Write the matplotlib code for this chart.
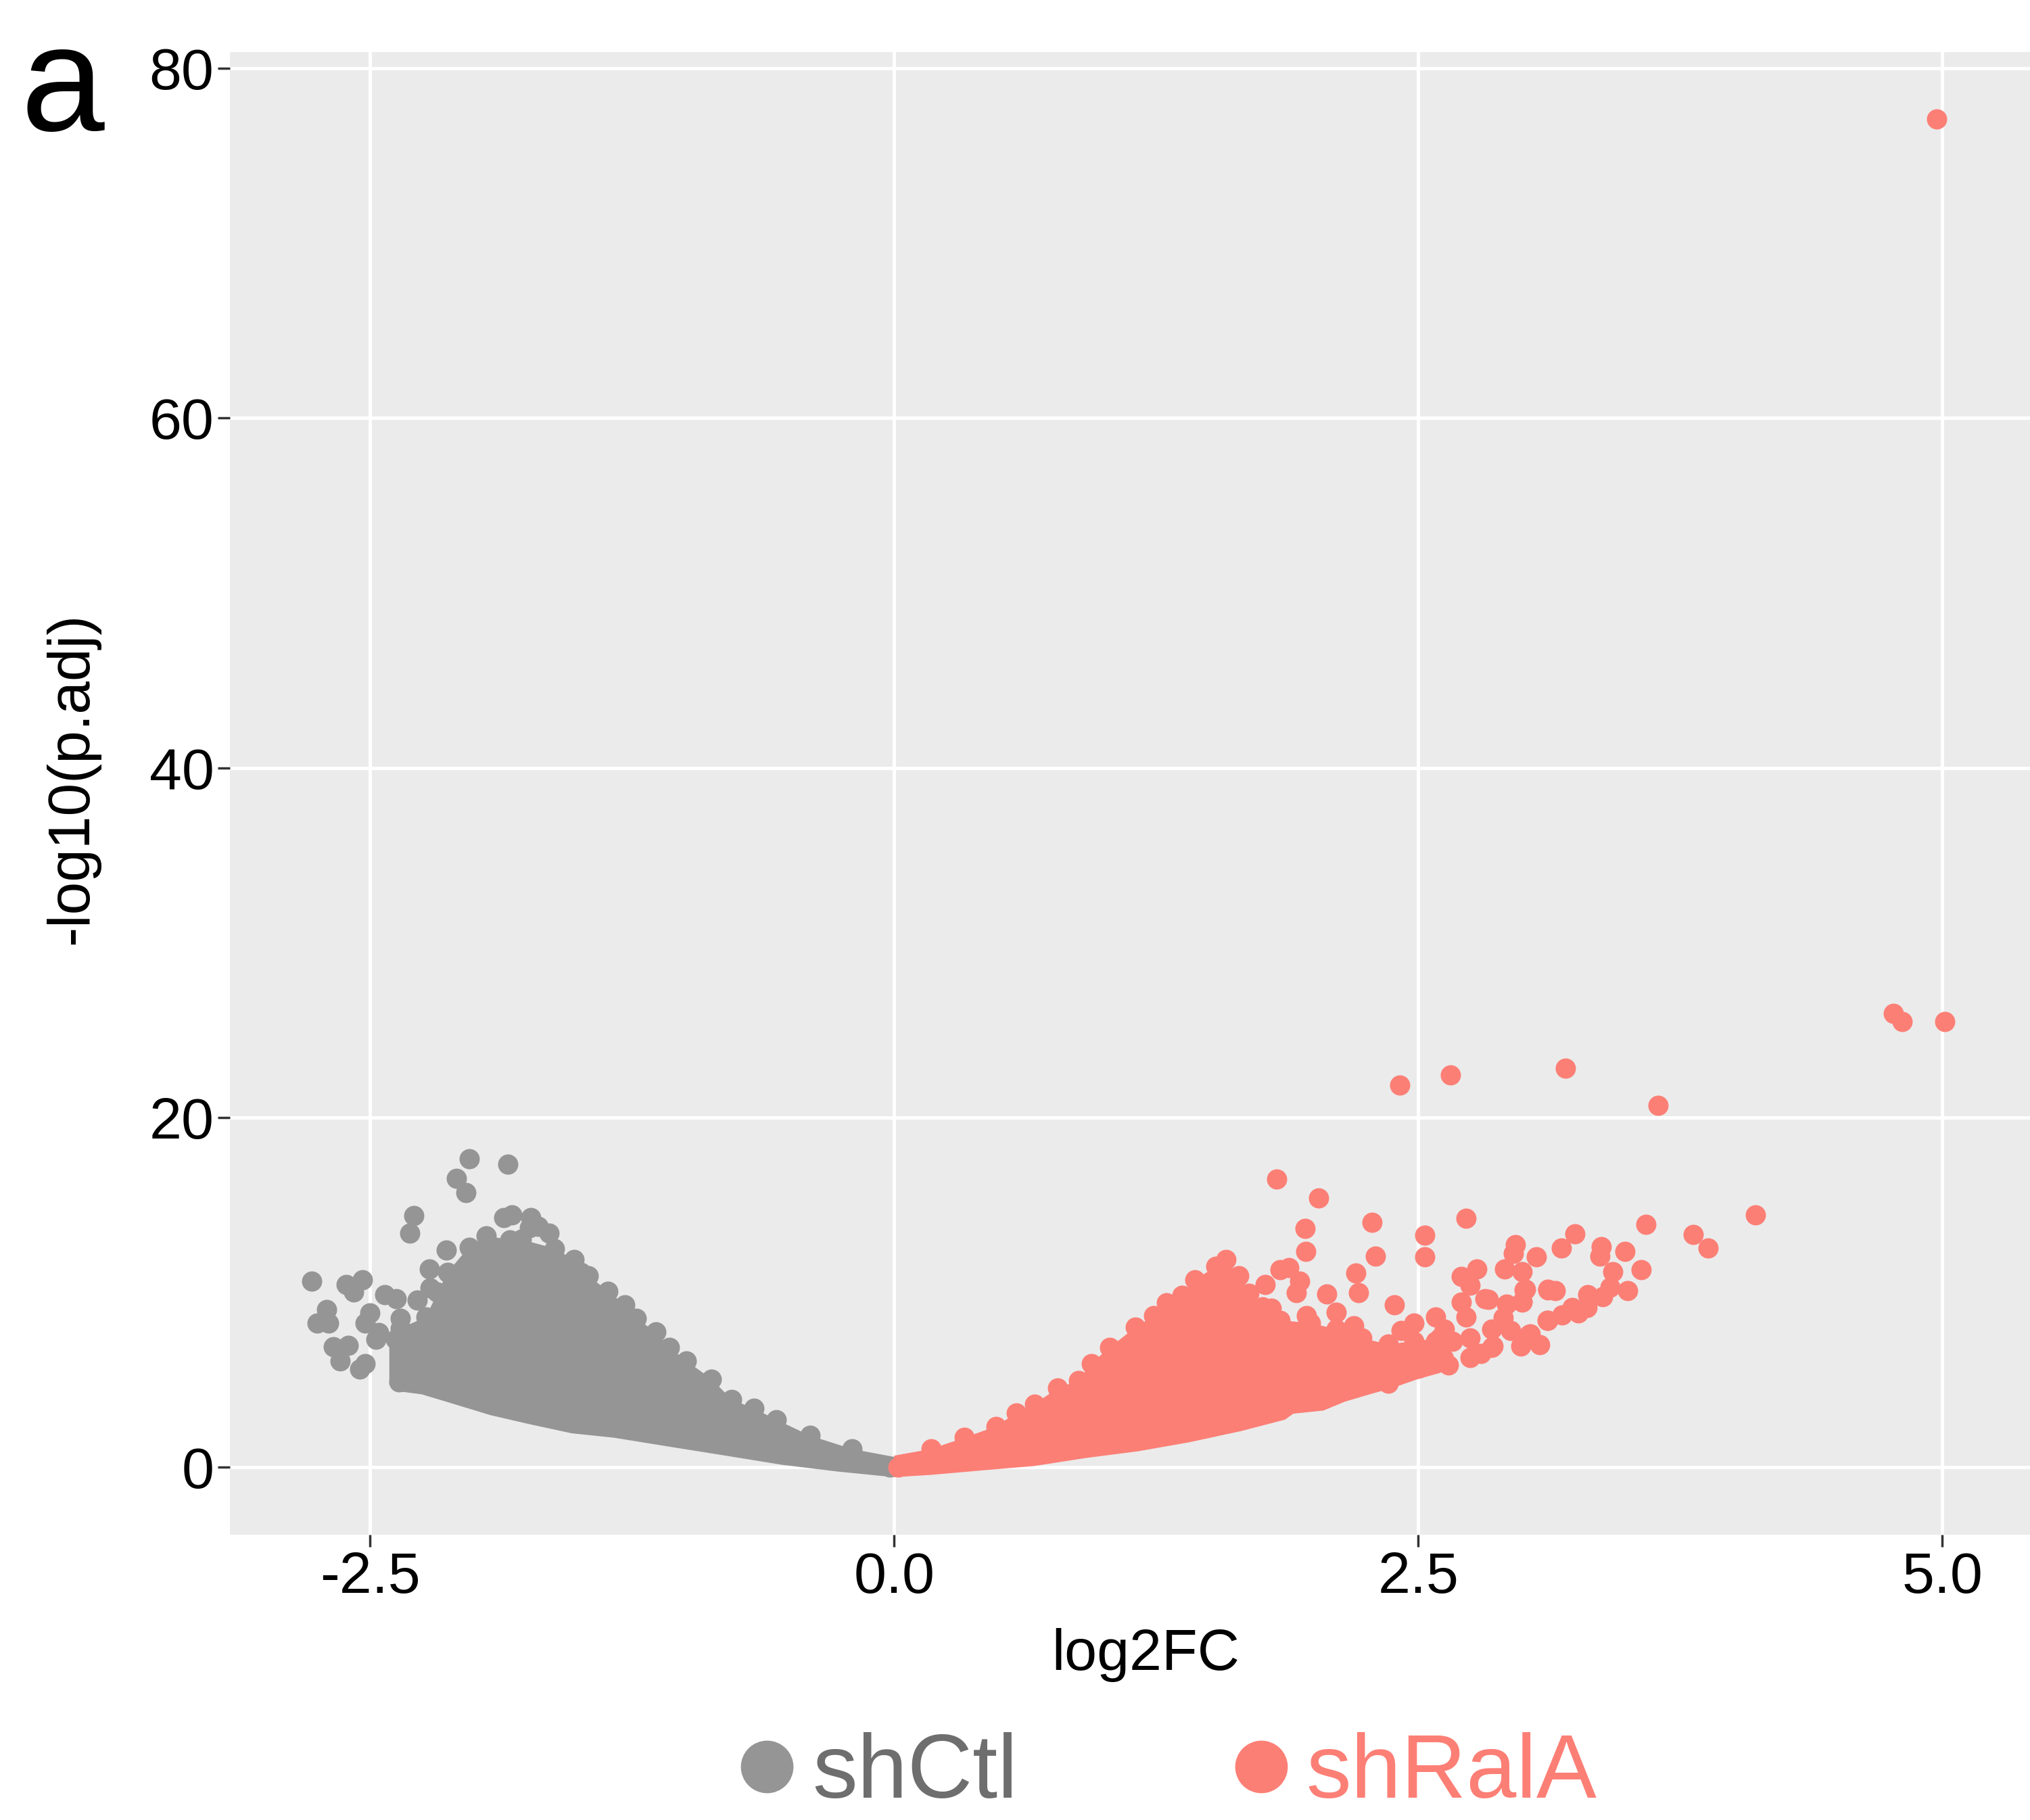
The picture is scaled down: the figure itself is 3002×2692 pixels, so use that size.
import matplotlib
matplotlib.use('Agg')
import matplotlib.pyplot as plt
from matplotlib.lines import Line2D

plt.rcParams['font.family'] = ['Liberation Sans', 'DejaVu Sans']

# scattered shCtl genes (log2FC, -log10(p.adj))
gray_x = [-2.028, -1.843, -2.089, -2.042, -2.291, -2.310, -1.863, -1.822, -1.734, -1.740,
          -1.647, -1.699, -2.135, -2.217, -2.213, -2.779, -2.614, -2.536, -2.579, -2.429,
          -2.374, -2.707, -2.752, -2.696, -2.501, -2.522, -2.676, -2.604, -2.641, -2.522,
          -2.548, -2.470, -2.460, -2.361, -2.357, -2.275, -2.182, -1.524, -1.493, -2.377, -0.02]
gray_y = [17.63, 17.34, 16.50, 15.70, 14.37, 13.38, 14.26, 14.42, 14.26, 13.70,
          13.38, 13.78, 12.41, 11.33, 10.25, 10.65, 10.44, 10.70, 10.02, 9.85,
          9.61, 9.00, 8.25, 8.25, 8.81, 8.25, 6.88, 6.96, 6.08, 5.92,
          5.61, 7.29, 7.69, 4.88, 8.49, 9.53, 10.02, 11.45, 11.14, 7.29, 0.0]

# dense shCtl cloud: upper edge (left to right) and lower edge (right to left)
gray_top_x = [-2.408, -2.408, -2.357, -2.234, -2.131, -2.028, -1.946, -1.833, -1.779, -1.619,
              -1.525, -1.458, -1.365, -1.284, -1.231, -1.137, -1.070, -0.990, -0.870, -0.776,
              -0.669, -0.562, -0.402, -0.201, 0.0]
gray_top_y = [4.72, 7.61, 7.93, 8.57, 11.13, 12.58, 13.22, 13.00, 13.02, 12.50,
              11.86, 10.96, 10.05, 9.28, 8.51, 7.73, 6.83, 6.06, 5.03, 3.87,
              3.35, 2.71, 1.80, 1.03, 0.58]
gray_bot_x = [0.0, -0.268, -0.536, -0.803, -1.070, -1.338, -1.538, -1.739, -1.926, -2.151,
              -2.254, -2.357]
gray_bot_y = [-0.58, -0.26, 0.13, 0.65, 1.16, 1.68, 1.93, 2.45, 2.97, 3.79,
              4.16, 4.32]

# scattered shRalA genes
red_x = [4.975, 4.766, 4.809, 5.012, 2.414, 2.654, 3.202, 3.645, 1.826, 2.024,
         2.281, 1.960, 1.963, 2.295, 2.532, 2.532, 2.727, 2.203, 2.217, 1.770,
         1.843, 1.884, 1.935, 1.919, 2.063, 1.801, 1.966, 2.110, 2.192, 2.388,
         2.418, 2.707, 2.779, 2.748, 2.707, 2.820, 2.964, 2.953, 3.063, 2.912,
         2.995, 3.005, 2.995, 3.118, 3.118, 2.943, 3.036, 2.851, 2.748, 2.645,
         2.583, 2.357, 4.108, 3.586, 3.812, 3.882, 3.247, 3.183, 3.375, 3.367,
         3.487, 3.565, 3.428, 3.013, 3.120, 3.153, 3.310, 3.379, 3.499, 3.416,
         2.835, 2.923, 2.997, 2.906, 3.030, 2.857, 3.115, 3.186, 3.264, 3.236,
         2.480, 2.583, 2.665, 2.583, 2.501, 2.748, 2.799, 2.851, 2.727, 2.625,
         3.307, 2.990, 3.080, 0.02]
red_y = [77.10, 25.93, 25.48, 25.48, 21.85, 22.44, 22.81, 20.67, 16.48, 15.40,
         13.98, 13.63, 12.32, 12.08, 13.27, 12.03, 14.24, 11.08, 9.96, 10.42,
         11.30, 11.42, 10.65, 9.96, 9.91, 9.10, 8.66, 8.84, 8.06, 9.27,
         7.80, 10.91, 11.34, 10.39, 9.44, 9.61, 12.72, 12.20, 12.03, 11.34,
         11.17, 10.13, 9.44, 10.13, 8.40, 7.80, 7.63, 6.85, 6.25, 5.82,
         8.58, 4.78, 14.41, 13.89, 13.29, 12.51, 13.34, 12.51, 12.60, 12.08,
         12.34, 11.30, 11.17, 10.18, 10.18, 10.10, 9.84, 9.75, 10.10, 10.27,
         9.58, 9.32, 9.49, 8.54, 7.59, 6.90, 8.37, 8.68, 8.80, 9.14,
         8.23, 7.18, 7.18, 5.99, 5.64, 7.37, 6.50, 7.88, 8.58, 7.88,
         9.11, 6.90, 7.00, 0.0]

# dense shRalA cloud: upper edge (left to right) and lower edge (right to left)
red_top_x = [0.0, 0.176, 0.336, 0.485, 0.583, 0.670, 0.781, 0.880, 0.941, 1.028,
             1.151, 1.238, 1.299, 1.374, 1.435, 1.534, 1.583, 1.645, 1.694, 1.757,
             1.843, 1.986, 2.110, 2.233, 2.357, 2.480, 2.604, 2.665, 2.686]
red_top_y = [0.65, 1.03, 1.68, 2.32, 3.09, 3.61, 4.51, 4.96, 5.93, 6.83,
             7.99, 8.64, 9.41, 9.80, 10.70, 11.47, 11.86, 10.96, 9.93, 9.15,
             8.40, 8.23, 7.89, 7.37, 7.02, 7.20, 7.37, 6.50, 5.82]
red_bot_x = [2.604, 2.501, 2.377, 2.275, 2.151, 2.048, 1.904, 1.865, 1.657, 1.410,
             1.164, 0.917, 0.670, 0.423, 0.176, 0.0]
red_bot_y = [5.38, 5.04, 4.52, 4.18, 3.74, 3.23, 3.05, 2.71, 2.06, 1.42,
             0.90, 0.52, 0.06, -0.19, -0.45, -0.58]

x_ticks = [-2.5, 0.0, 2.5, 5.0]
x_tick_labels = ['-2.5', '0.0', '2.5', '5.0']
y_ticks = [0, 20, 40, 60, 80]
y_tick_labels = ['0', '20', '40', '60', '80']
groups = ['shCtl', 'shRalA']

gray = '#959595'
salmon = '#FC7F76'
pt_size = 466

fig = plt.figure(figsize=(30.02, 26.92), dpi=100)
ax = fig.add_axes([0.1133, 0.1568, 0.8867, 0.8146])
ax.set_facecolor('#EBEBEB')

# dense clouds: filled outline, genes along the upper edge, then the scattered ones
ax.fill(gray_top_x + gray_bot_x, gray_top_y + gray_bot_y, color=gray, lw=0, zorder=2)
ax.scatter(gray_top_x[2:-1], gray_top_y[2:-1], s=pt_size, color=gray, linewidths=0, zorder=3)
ax.scatter(gray_x, gray_y, s=pt_size, color=gray, linewidths=0, zorder=3)
ax.fill(red_top_x + red_bot_x, red_top_y + red_bot_y, color=salmon, lw=0, zorder=4)
ax.scatter(red_top_x[1:-2], red_top_y[1:-2], s=pt_size, color=salmon, linewidths=0, zorder=5)
ax.scatter(red_x, red_y, s=pt_size, color=salmon, linewidths=0, zorder=5)

ax.set_xlim(-3.168, 5.419)
ax.set_ylim(-3.867, 80.94)
ax.set_xticks(x_ticks)
ax.set_xticklabels(x_tick_labels)
ax.set_yticks(y_ticks)
ax.set_yticklabels(y_tick_labels)
ax.grid(True, color='white', linewidth=3.6)
ax.set_axisbelow(True)
for s in ax.spines.values():
    s.set_visible(False)
ax.tick_params(axis='both', length=13, width=2.5, color='#333333',
               labelsize=62, labelcolor='black', pad=4)

ax.set_xlabel('log2FC', fontsize=62)
ax.xaxis.set_label_coords(0.5086, -0.063)
ax.set_ylabel('-log10(p.adj)', fontsize=63)
ax.yaxis.set_label_coords(-0.0725, 0.51)

fig.text(0.01, 0.9283, 'a', fontsize=160, va='baseline', ha='left')

handles = [Line2D([], [], marker='o', linestyle='', markersize=56, color=gray, markeredgewidth=0),
           Line2D([], [], marker='o', linestyle='', markersize=56, color=salmon, markeredgewidth=0)]
leg = fig.legend(handles, groups, loc='center', bbox_to_anchor=(0.5756, 0.025),
                 ncol=2, frameon=False, fontsize=96, handlelength=0.6,
                 handletextpad=0.2, columnspacing=2.4,
                 labelcolor=['#6E6E6E', salmon])

fig.savefig('out.png', dpi=100)
